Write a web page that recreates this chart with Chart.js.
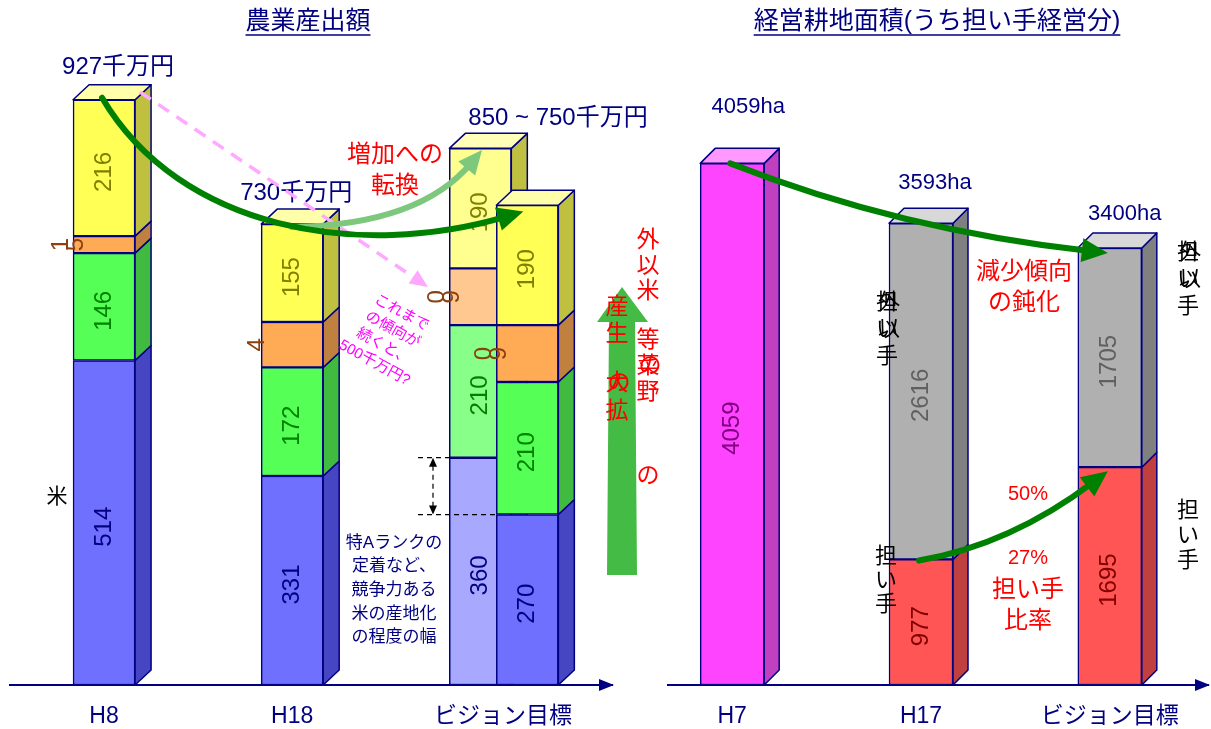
<!DOCTYPE html>
<html>
<head>
<meta charset="utf-8">
<script src="https://cdn.jsdelivr.net/npm/chart.js@4.4.1/dist/chart.umd.min.js"></script>
<style>
  body { margin: 0; background: #fff; width: 1211px; height: 729px; overflow: hidden; position: relative; }
  canvas { position: absolute; top: 0; }
  #left { left: 0; }
  #right { left: 660px; }
</style>
</head>
<body>
<canvas id="left" width="660" height="729"></canvas>
<canvas id="right" width="551" height="729"></canvas>
<script>
// 農業産出額 (千万円)
const leftCats = ['H8', 'H18', 'ビジョン目標'];
const leftTickPos = [0, 1, 2.12];
const mainPos = [0, 1, 2.25];          // H8, H18, ビジョン目標(下限)
const riceVals = [514, 331, 270];
const vegVals = [170, 172, 210];
const midVals = [27, 72, 90];
const topVals = [216, 155, 190];
const riceLabels = ['514', '331', '270'];
const vegLabels = ['146', '172', '210'];
const midLabels = ['15', '4', '09'];
const topLabels = ['216', '155', '190'];
const backPos = [2];                   // ビジョン目標(上限)
const backRice = [360];
const backVeg = [210];
const backMid = [90];
const backTop = [190];
const backRiceLabels = ['360'];
const backVegLabels = ['210'];
const backMidLabels = ['09'];
const backTopLabels = ['190'];

// 経営耕地面積 (ha)
const rightCats = ['H7', 'H17', 'ビジョン目標'];
const rightTickPos = [0, 1, 2];
const totalPos = [0];
const totalVals = [4059];
const totalLabels = ['4059'];
const ninaiPos = [1, 2];
const ninaiVals = [977, 1695];
const ninaiLabels = ['977', '1695'];
const otherVals = [2616, 1705];
const otherLabels = ['2616', '1705'];

const NAVY = '#000080';
const FONT = '"Liberation Sans", "Noto Sans CJK JP", sans-serif';
const RIGHT_OFF = 660;

function ds(label, xs, ys, color, side, top, txtColor, txt, group, extra) {
  return Object.assign({
    label: label,
    data: xs.map((x, i) => ({ x: x, y: ys[i] })),
    backgroundColor: color,
    borderColor: NAVY,
    borderWidth: 1.5,
    borderSkipped: false,
    stack: group,
    order: group === 'back' ? 2 : 1,
    group: group,
    side: side,
    top: top,
    txtColor: txtColor,
    txt: txt
  }, extra || {});
}

// 3D side / top faces
function drawFaces(chart, group) {
  const { dx, dy } = chart.options.plugins.faces3d;
  const ctx = chart.ctx;
  const tops = {};
  const items = [];
  chart.data.datasets.forEach((d, di) => {
    if (d.group !== group) return;
    chart.getDatasetMeta(di).data.forEach(el => {
      const p = el.getProps(['x', 'y', 'base', 'width'], true);
      const l = p.x - p.width / 2, r = p.x + p.width / 2;
      const t = Math.min(p.y, p.base), b = Math.max(p.y, p.base);
      items.push({ d, l, r, t, b });
      const k = Math.round(p.x);
      if (!tops[k] || t < tops[k].t) tops[k] = { d, l, r, t };
    });
  });
  ctx.save();
  ctx.strokeStyle = NAVY;
  ctx.lineWidth = 1.5;
  ctx.lineJoin = 'round';
  items.forEach(it => {
    ctx.fillStyle = it.d.side;
    ctx.beginPath();
    ctx.moveTo(it.r, it.t);
    ctx.lineTo(it.r + dx, it.t - dy);
    ctx.lineTo(it.r + dx, it.b - dy);
    ctx.lineTo(it.r, it.b);
    ctx.closePath();
    ctx.fill();
    ctx.stroke();
  });
  Object.values(tops).forEach(tp => {
    ctx.fillStyle = tp.d.top;
    ctx.beginPath();
    ctx.moveTo(tp.l, tp.t);
    ctx.lineTo(tp.l + dx, tp.t - dy);
    ctx.lineTo(tp.r + dx, tp.t - dy);
    ctx.lineTo(tp.r, tp.t);
    ctx.closePath();
    ctx.fill();
    ctx.stroke();
  });
  ctx.restore();
}

function drawBarLabels(chart) {
  const ctx = chart.ctx;
  ctx.save();
  ctx.textAlign = 'center';
  ctx.textBaseline = 'middle';
  ctx.font = '24px ' + FONT;
  chart.data.datasets.forEach((d, di) => {
    chart.getDatasetMeta(di).data.forEach((el, i) => {
      const p = el.getProps(['x', 'y', 'base', 'width'], true);
      const cy = (p.y + p.base) / 2;
      const txt = d.txt[i];
      ctx.fillStyle = d.txtColor;
      if (d.outside) {
        const chars = [...txt];
        const cx = p.x - p.width / 2 - 4;
        chars.forEach((c, j) => {
          ctx.save();
          ctx.translate(cx + (j - (chars.length - 1) / 2) * 15, cy);
          ctx.rotate(-Math.PI / 2);
          ctx.fillText(c, 0, 0);
          ctx.restore();
        });
      } else {
        ctx.save();
        ctx.translate(p.x, cy + 4);
        ctx.rotate(-Math.PI / 2);
        ctx.fillText(txt, 0, 0);
        ctx.restore();
      }
    });
  });
  ctx.restore();
}

const faces3d = {
  id: 'faces3d',
  beforeDatasetsDraw(chart) { drawFaces(chart, 'back'); },
  afterDatasetsDraw(chart) { drawFaces(chart, 'main'); drawBarLabels(chart); }
};

function arrow(ctx, pts, color, lw, hl, hw, dash) {
  const n = pts.length, end = pts[n - 1], prev = pts[n - 2];
  const a = Math.atan2(end[1] - prev[1], end[0] - prev[0]);
  const ca = Math.cos(a), sa = Math.sin(a);
  const back = [end[0] - ca * hl * 0.7, end[1] - sa * hl * 0.7];
  ctx.save();
  ctx.strokeStyle = color;
  ctx.lineWidth = lw;
  ctx.lineCap = dash ? 'butt' : 'round';
  ctx.setLineDash(dash || []);
  ctx.beginPath();
  ctx.moveTo(pts[0][0], pts[0][1]);
  if (n === 2) ctx.lineTo(back[0], back[1]);
  else if (n === 3) ctx.quadraticCurveTo(pts[1][0], pts[1][1], back[0], back[1]);
  else ctx.bezierCurveTo(pts[1][0], pts[1][1], pts[2][0], pts[2][1], back[0], back[1]);
  ctx.stroke();
  ctx.setLineDash([]);
  ctx.fillStyle = color;
  ctx.beginPath();
  ctx.moveTo(end[0], end[1]);
  ctx.lineTo(end[0] - ca * hl - sa * hw / 2, end[1] - sa * hl + ca * hw / 2);
  ctx.lineTo(end[0] - ca * hl + sa * hw / 2, end[1] - sa * hl - ca * hw / 2);
  ctx.closePath();
  ctx.fill();
  ctx.restore();
}

function text(ctx, s, x, y, size, color, align) {
  ctx.font = size + 'px ' + FONT;
  ctx.fillStyle = color;
  ctx.textAlign = align || 'center';
  ctx.textBaseline = 'middle';
  ctx.fillText(s, x, y);
}

// vertical text; an entry that is an array is drawn on top of itself
function vtext(ctx, cols, x, y0, step, size, color) {
  cols.forEach((c, i) => {
    [].concat(c).forEach((g, k) => text(ctx, g, x + k * 2, y0 + i * step, size, color));
  });
}

function title(ctx, s, cx, y) {
  ctx.save();
  text(ctx, s, cx, y, 25, NAVY);
  const w = ctx.measureText(s).width;
  ctx.strokeStyle = NAVY;
  ctx.lineWidth = 1.5;
  ctx.beginPath();
  ctx.moveTo(cx - w / 2, y + 13);
  ctx.lineTo(cx + w / 2, y + 13);
  ctx.stroke();
  ctx.restore();
}

function axisArrow(chart) {
  const { ctx, chartArea: a } = chart;
  ctx.save();
  ctx.fillStyle = NAVY;
  ctx.beginPath();
  ctx.moveTo(a.right + 2, a.bottom);
  ctx.lineTo(a.right - 13, a.bottom - 6);
  ctx.lineTo(a.right - 13, a.bottom + 6);
  ctx.closePath();
  ctx.fill();
  ctx.restore();
}

const leftNotes = {
  id: 'leftNotes',
  afterDraw(chart) {
    const ctx = chart.ctx;
    const X = v => chart.scales.x.getPixelForValue(v);
    const Y = v => chart.scales.y.getPixelForValue(v);
    axisArrow(chart);
    ctx.save();
    title(ctx, '農業産出額', 308, 22);
    text(ctx, '927千万円', X(0) + 14, 67, 24, NAVY);
    text(ctx, '730千万円', X(1) + 4, 193, 24, NAVY);
    text(ctx, '850 ~ 750千万円', 558, 118, 24, NAVY);
    text(ctx, '米', 57, 497, 21, '#000');

    // これまでの傾向が続くと
    arrow(ctx, [[140, 92], [428, 287]], '#FFA8FF', 3.5, 18, 16, [13, 9]);
    ctx.save();
    ctx.translate(388, 338);
    ctx.rotate(0.5);
    ['これまで', 'の傾向が', '続くと、', '500千万円?'].forEach((s, i) =>
      text(ctx, s, 0, (i - 1.5) * 19, 15, '#FF00FF'));
    ctx.restore();

    // 増加への転換
    arrow(ctx, [[X(1), Y(730) + 3], [420, 225], [482, 150]], '#7DC87D', 6, 24, 22);
    arrow(ctx, [[X(0) - 2, Y(927) - 2], [180, 230], [360, 260], [X(2.25) - 4, Y(750)]], '#008000', 6, 26, 24);
    text(ctx, '増加への', 395, 155, 24, '#FF0000');
    text(ctx, '転換', 395, 186, 24, '#FF0000');

    // 特Aランク の幅
    const backMeta = chart.getDatasetMeta(chart.data.datasets.findIndex(d => d.label === 'backRice'));
    const mainMeta = chart.getDatasetMeta(chart.data.datasets.findIndex(d => d.label === 'rice'));
    const yHi = backMeta.data[0].y, yLo = mainMeta.data[2].y;
    ctx.strokeStyle = '#000';
    ctx.lineWidth = 1.2;
    ctx.setLineDash([5, 4]);
    ctx.beginPath();
    ctx.moveTo(418, yHi); ctx.lineTo(450, yHi);
    ctx.moveTo(418, yLo); ctx.lineTo(498, yLo);
    ctx.moveTo(433, yHi + 8); ctx.lineTo(433, yLo - 8);
    ctx.stroke();
    ctx.setLineDash([]);
    ctx.fillStyle = '#000';
    ctx.beginPath();
    ctx.moveTo(433, yHi); ctx.lineTo(429, yHi + 9); ctx.lineTo(437, yHi + 9); ctx.closePath();
    ctx.moveTo(433, yLo); ctx.lineTo(429, yLo - 9); ctx.lineTo(437, yLo - 9); ctx.closePath();
    ctx.fill();
    ['特Aランクの', '定着など、', '競争力ある', '米の産地化', 'の程度の幅'].forEach((s, i) =>
      text(ctx, s, 394, 543 + i * 23.7, 17, NAVY));

    // 米以外の野菜等の生産拡大
    ctx.fillStyle = '#44BB44';
    ctx.beginPath();
    ctx.moveTo(622, 287);
    ctx.lineTo(648, 322);
    ctx.lineTo(635, 322);
    ctx.lineTo(637, 575);
    ctx.lineTo(607, 575);
    ctx.lineTo(609, 322);
    ctx.lineTo(597, 322);
    ctx.closePath();
    ctx.fill();
    vtext(ctx, ['外', '以', '米'], 648, 241, 25.5, 23, '#FF0000');
    vtext(ctx, ['等', ['菜', 'の'], '野'], 648, 341, 26, 23, '#FF0000');
    vtext(ctx, ['の'], 648, 477, 26, 23, '#FF0000');
    vtext(ctx, ['産', '生'], 617, 308, 27, 23, '#FF0000');
    vtext(ctx, [['大', 'の'], '拡'], 617, 384, 28, 23, '#FF0000');
    ctx.restore();
  }
};

const rightNotes = {
  id: 'rightNotes',
  afterDraw(chart) {
    const ctx = chart.ctx;
    const X = v => chart.scales.x.getPixelForValue(v) + RIGHT_OFF;
    const Y = v => chart.scales.y.getPixelForValue(v);
    axisArrow(chart);
    ctx.save();
    ctx.translate(-RIGHT_OFF, 0);
    title(ctx, '経営耕地面積(うち担い手経営分)', 937, 22);
    text(ctx, '4059ha', X(0) + 16, 107, 22, NAVY);
    text(ctx, '3593ha', X(1) + 14, 183, 22, NAVY);
    text(ctx, '3400ha', X(2) + 15, 214, 22, NAVY);

    arrow(ctx, [[X(0) - 2, Y(4059)], [900, 230], [X(2) - 2, Y(3400) + 5]], '#008000', 6, 26, 24);
    arrow(ctx, [[X(1) - 2, Y(977) + 1], [1010, 545], [X(2) - 2, Y(1695) + 4]], '#008000', 6, 26, 24);

    text(ctx, '減少傾向', 1024, 272, 24, '#FF0000');
    text(ctx, 'の鈍化', 1024, 303, 24, '#FF0000');
    text(ctx, '50%', 1028, 494, 20, '#FF0000');
    text(ctx, '27%', 1028, 558, 20, '#FF0000');
    text(ctx, '担い手', 1028, 590, 24, '#FF0000');
    text(ctx, '比率', 1028, 621, 24, '#FF0000');

    vtext(ctx, [['担', '外'], ['い', '以'], '手'], 887, 303, 27, 22, '#000');
    vtext(ctx, ['担', 'い', '手'], 886, 557, 24, 22, '#000');
    vtext(ctx, [['担', '外'], ['い', '以'], '手'], 1188, 253, 27, 22, '#000');
    vtext(ctx, ['担', 'い', '手'], 1188, 511, 25, 22, '#000');
    ctx.restore();
  }
};

function xScale(min, max, cats, pos) {
  return {
    type: 'linear',
    min: min,
    max: max,
    offset: false,
    grid: { display: false, drawTicks: false, offset: false },
    border: { color: NAVY, width: 2 },
    afterBuildTicks: s => { s.ticks = pos.map(v => ({ value: v })); },
    afterFit: s => { s.height = 44; },
    ticks: {
      autoSkip: false,
      maxRotation: 0,
      padding: 18,
      color: NAVY,
      font: { size: 23, family: FONT },
      callback: (v, i) => cats[i]
    }
  };
}

new Chart(document.getElementById('left'), {
  type: 'bar',
  data: {
    datasets: [
      ds('rice', mainPos, riceVals, '#7070FF', '#4646C2', '#A0A0FF', NAVY, riceLabels, 'main'),
      ds('veg', mainPos, vegVals, '#55FF55', '#40BB40', '#AAFFAA', '#008000', vegLabels, 'main'),
      ds('mid', mainPos, midVals, '#FFAA55', '#C08040', '#FFD0A0', '#8B4010', midLabels, 'main', { outside: true }),
      ds('top', mainPos, topVals, '#FFFF55', '#C0C040', '#FFFFAA', '#808000', topLabels, 'main'),
      ds('backRice', backPos, backRice, '#A8A8FF', '#7070E0', '#D0D0FF', NAVY, backRiceLabels, 'back'),
      ds('backVeg', backPos, backVeg, '#88FF88', '#60CC60', '#C0FFC0', '#008000', backVegLabels, 'back'),
      ds('backMid', backPos, backMid, '#FFC890', '#D09860', '#FFE0C0', '#8B4010', backMidLabels, 'back', { outside: true }),
      ds('backTop', backPos, backTop, '#FFFF90', '#C0C040', '#FFFFB8', '#808000', backTopLabels, 'back')
    ]
  },
  options: {
    responsive: false,
    animation: false,
    events: [],
    datasets: { bar: { barThickness: 62, grouped: false } },
    layout: { padding: { left: 10, right: 48, top: 0, bottom: 0 } },
    plugins: { legend: { display: false }, tooltip: { enabled: false }, faces3d: { dx: 16, dy: 15 } },
    scales: {
      x: xScale(-0.5, 2.7, leftCats, leftTickPos),
      y: { display: false, stacked: true, min: 0, max: 1085 }
    }
  },
  plugins: [faces3d, leftNotes]
});

new Chart(document.getElementById('right'), {
  type: 'bar',
  data: {
    datasets: [
      ds('total', totalPos, totalVals, '#FF44FF', '#C040C0', '#FF99FF', '#800080', totalLabels, 'main'),
      ds('ninai', ninaiPos, ninaiVals, '#FF5555', '#C04040', '#FF9999', '#800000', ninaiLabels, 'main'),
      ds('other', ninaiPos, otherVals, '#B0B0B0', '#808080', '#D8D8D8', '#606060', otherLabels, 'main')
    ]
  },
  options: {
    responsive: false,
    animation: false,
    events: [],
    datasets: { bar: { barThickness: 64, grouped: false } },
    layout: { padding: { left: 8, right: 3, top: 0, bottom: 0 } },
    plugins: { legend: { display: false }, tooltip: { enabled: false }, faces3d: { dx: 15, dy: 15 } },
    scales: {
      x: xScale(-0.34, 2.52, rightCats, rightTickPos),
      y: { display: false, stacked: true, min: 0, max: 5330 }
    }
  },
  plugins: [faces3d, rightNotes]
});
</script>
</body>
</html>
